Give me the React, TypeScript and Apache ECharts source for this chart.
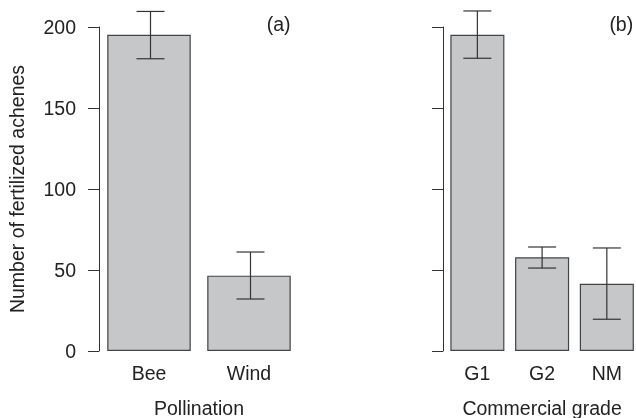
import React, { useEffect, useRef } from "react";
import * as echarts from "echarts";

const pollinationCats = ["Bee", "Wind"];
const pollinationMeans = [195.2, 46.5];
const pollinationLow = [180.4, 32.1];
const pollinationHigh = [209.6, 61.1];

const gradeCats = ["G1", "G2", "NM"];
const gradeMeans = [195.2, 57.8];
const gradeMeansNM = 41.5;
const gradeLow = [180.7, 51.2, 19.6];
const gradeHigh = [209.9, 64.2, 63.6];

const yTicks = [0, 50, 100, 150, 200];

const FONT = "'Liberation Sans', Arial, Helvetica, sans-serif";
const FS = 19.5;
const TXT = "#222";
const LINE = "#333";
const BAR_FILL = "#c6c7c9";
const BAR_BORDER = "#444";

function errSeries(xIdx: number, cats: string[], low: number[], high: number[], dx: number) {
  return {
    type: "custom",
    xAxisIndex: xIdx,
    yAxisIndex: xIdx,
    clip: false,
    z: 5,
    data: cats.map((c, i) => [i, low[i], high[i]]),
    renderItem: (params: any, api: any) => {
      const x = api.value(0);
      const lo = api.coord([x, api.value(1)]);
      const hi = api.coord([x, api.value(2)]);
      const cx = lo[0] + dx;
      const half = 14;
      const style = { stroke: "#333", lineWidth: 1.2 };
      return {
        type: "group",
        children: [
          { type: "line", shape: { x1: cx, y1: lo[1], x2: cx, y2: hi[1] }, style },
          { type: "line", shape: { x1: cx - half, y1: lo[1], x2: cx + half, y2: lo[1] }, style },
          { type: "line", shape: { x1: cx - half, y1: hi[1], x2: cx + half, y2: hi[1] }, style },
        ],
      };
    },
  };
}

export default function App() {
  const ref = useRef<HTMLDivElement>(null);
  useEffect(() => {
    if (!ref.current) return;
    const chart = echarts.init(ref.current, undefined, { renderer: "svg" });
    const textStyle = { fontFamily: FONT, fontSize: FS, color: TXT };
    const nameStyle = { fontFamily: FONT, fontSize: FS, color: TXT, lineHeight: 16 };
    const yBase = {
      type: "value",
      min: yTicks[0],
      max: yTicks[yTicks.length - 1],
      interval: 50,
      axisLine: { show: true, lineStyle: { color: LINE, width: 1 } },
      axisTick: { show: true, inside: false, length: 11, lineStyle: { color: LINE, width: 1 } },
      splitLine: { show: false },
    };
    const xBase = {
      type: "category",
      axisLine: { show: false },
      axisTick: { show: false },
      axisLabel: { ...textStyle, margin: 12 },
      nameLocation: "middle",
      nameGap: 49,
      nameTextStyle: nameStyle,
    };
    const barStyle = { color: BAR_FILL, borderColor: BAR_BORDER, borderWidth: 1.2 };
    chart.setOption({
      animation: false,
      grid: [
        { left: 99, top: 27, width: 200, height: 324, outerBoundsMode: "none", containLabel: false },
        { left: 445, top: 27, width: 194.2, height: 324, outerBoundsMode: "none", containLabel: false },
      ],
      xAxis: [
        { ...xBase, gridIndex: 0, data: pollinationCats, name: "Pollination" },
        { ...xBase, gridIndex: 1, data: gradeCats, name: "Commercial grade" },
      ],
      yAxis: [
        {
          ...yBase,
          gridIndex: 0,
          axisLabel: { ...textStyle, margin: 23 },
          name: "Number of fertilized achenes",
          nameLocation: "middle",
          nameGap: 72,
          nameTextStyle: textStyle,
        },
        { ...yBase, gridIndex: 1, offset: 2, axisLabel: { show: false } },
      ],
      series: [
        {
          type: "bar",
          xAxisIndex: 0,
          yAxisIndex: 0,
          data: pollinationMeans,
          barWidth: "83.5%",
          itemStyle: barStyle,
        },
        {
          type: "bar",
          xAxisIndex: 1,
          yAxisIndex: 1,
          data: [...gradeMeans, gradeMeansNM],
          barWidth: "83.5%",
          itemStyle: barStyle,
        },
        errSeries(0, pollinationCats, pollinationLow, pollinationHigh, 1.5),
        errSeries(1, gradeCats, gradeLow, gradeHigh, 0),
      ],
      graphic: [
        { type: "text", x: 278.7, y: 24, style: { text: "(a)", font: `${FS}px ${FONT}`, fill: TXT, align: "center", verticalAlign: "middle" } },
        { type: "text", x: 621.3, y: 24, style: { text: "(b)", font: `${FS}px ${FONT}`, fill: TXT, align: "center", verticalAlign: "middle" } },
      ],
    });
    return () => chart.dispose();
  }, []);
  return <div ref={ref} style={{ position: "fixed", left: 0, top: 0, width: 636, height: 418 }} />;
}
